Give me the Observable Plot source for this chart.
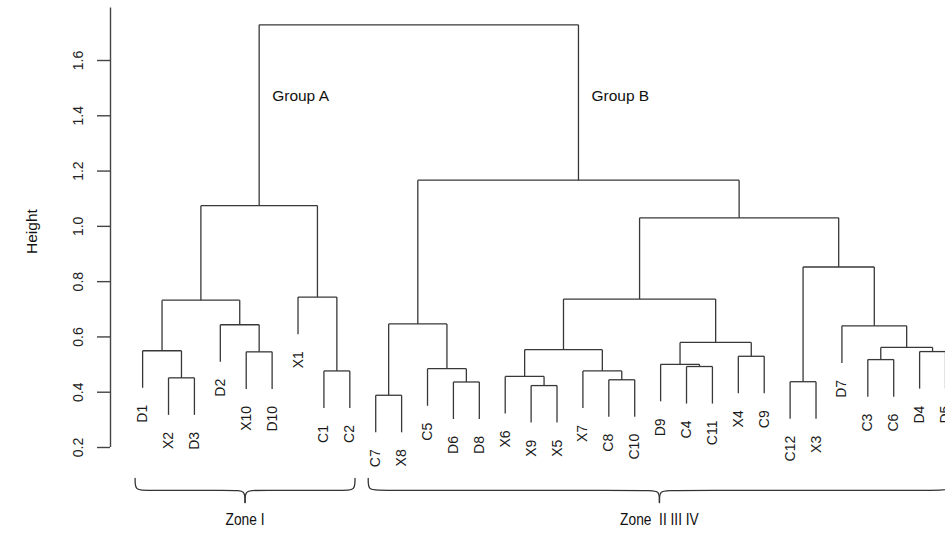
<!DOCTYPE html>
<html><head><meta charset="utf-8">
<script src="https://cdn.jsdelivr.net/npm/d3@7"></script>
<script src="https://cdn.jsdelivr.net/npm/@observablehq/plot@0.6"></script>
<style>
html,body{margin:0;padding:0;background:#fff;overflow:hidden;}
#chart svg{overflow:hidden;}
</style>
</head><body><div id="chart"></div>
<script>
// Leaf order (left to right)
const leaves = ["D1","X2","D3","D2","X10","D10","X1","C1","C2","C7","X8","C5","D6","D8","X6","X9","X5","X7","C8","C10","D9","C4","C11","X4","C9","C12","X3","D7","C3","C6","D4","D5"];
// Merges m1..m31: left child, right child, height
const mergeLeft  = ["X2","D1","X10","D2","m2","C1","X1","m5","C7","D6","C5","m9","X9","X6","C8","X7","m14","C4","D9","X4","m19","m17","C12","C3","D4","m24","D7","m23","m22","m12","m8"];
const mergeRight = ["D3","m1","D10","m3","m4","C2","m6","m7","X8","D8","m10","m11","X5","m13","C10","m15","m16","C11","m18","C9","m20","m21","X3","C6","D5","m25","m26","m27","m28","m29","m30"];
const mergeHeight = [0.452,0.550,0.546,0.644,0.733,0.477,0.744,1.075,0.389,0.437,0.485,0.647,0.424,0.457,0.445,0.477,0.554,0.493,0.501,0.530,0.580,0.737,0.438,0.518,0.547,0.562,0.640,0.853,1.031,1.167,1.729];
// Axis ticks
const yTicks = [0.2,0.4,0.6,0.8,1.0,1.2,1.4,1.6];
// Group annotations
const groupNames = ["Group A","Group B"];
const groupNodes = ["m8","m30"];
// Zone annotations
const zoneNames = ["Zone I","Zone  II III IV"];
const zoneFirst = ["D1","C7"];
const zoneLast  = ["C2","D5"];

const hang = 0.134;
const pos = new Map(), topY = new Map(), leafBottom = new Map();
leaves.forEach((l,i) => pos.set(l, i + 1));
const segs = [];
mergeLeft.forEach((l, i) => {
  const id = "m" + (i + 1), r = mergeRight[i], h = mergeHeight[i];
  for (const c of [l, r]) if (!topY.has(c)) { topY.set(c, h - hang); leafBottom.set(c, h - hang); }
  const xl = pos.get(l), xr = pos.get(r);
  segs.push({x1: xl, y1: topY.get(l), x2: xl, y2: h});
  segs.push({x1: xr, y1: topY.get(r), x2: xr, y2: h});
  segs.push({x1: xl, y1: h, x2: xr, y2: h});
  pos.set(id, (xl + xr) / 2); topY.set(id, h);
});

const n = leaves.length;
const pad = 0.04 * (n - 1);
const xDomain = [1 - pad, n + pad];
const step = 25.9;

// braces
const braceTop = 0.088, braceMid = 0.045, braceTip = 0.001, zoneLabelY = -0.082;
const bracePts = [];
const zoneCenters = [];
zoneNames.forEach((z, i) => {
  const a = pos.get(zoneFirst[i]) - 0.29, b = pos.get(zoneLast[i]) + 0.2, c = (a + b) / 2, r = 0.4;
  zoneCenters.push(c);
  [[a, braceTop],[a, braceMid],[a + r, braceMid],[c - r, braceMid],[c, braceMid],[c, braceTip]]
    .forEach(([x, y]) => bracePts.push({key: z + "L", x, y}));
  [[b, braceTop],[b, braceMid],[b - r, braceMid],[c + r, braceMid],[c, braceMid],[c, braceTip]]
    .forEach(([x, y]) => bracePts.push({key: z + "R", x, y}));
});

const lineColor = "#383838";
const chart = Plot.plot({
  width: 945,
  height: 536,
  marginLeft: 110,
  marginTop: 6,
  marginBottom: 89,
  marginRight: 0,
  style: {fontFamily: "'Liberation Sans', Arial, sans-serif", fontSize: "14px", background: "#fff", color: "#1a1a1a"},
  x: {domain: xDomain, range: [110, 110 + (xDomain[1] - xDomain[0]) * step], axis: null},
  y: {domain: [0.2, 1.6], range: [447, 60], axis: null},
  marks: [
    Plot.ruleX([xDomain[0]], {y1: 0.2, y2: 1.79, stroke: "#444", strokeWidth: 1.4}),
    Plot.axisY({ticks: yTicks, tickSize: 13, tickPadding: 15, tickRotate: -90, tickFormat: d => d.toFixed(1), label: null, fontSize: 14, stroke: "#444", strokeWidth: 1.4, fill: "#222"}),
    Plot.text(["Height"], {frameAnchor: "left", y: () => d3.mean(yTicks), dx: -78, rotate: -90, fontSize: 15.5, fill: "#111"}),
    Plot.link(segs, {x1: "x1", y1: "y1", x2: "x2", y2: "y2", stroke: lineColor, strokeWidth: 1.3}),
    Plot.text(leaves, {x: d => pos.get(d), y: d => leafBottom.get(d), text: d => d, rotate: -90, textAnchor: "end", dy: 17, fontSize: 14, fill: "#1a1a1a"}),
    Plot.text(groupNames, {x: (d, i) => pos.get(groupNodes[i]), y: () => 1.47, text: d => d, dx: 13, textAnchor: "start", fontSize: 15.5, fill: "#111"}),
    Plot.line(bracePts, {x: "x", y: "y", z: "key", curve: "basis", stroke: "#333", strokeWidth: 1.3}),
    Plot.text(zoneNames, {className: "zone-label", x: (d, i) => zoneCenters[i], y: () => zoneLabelY, text: d => d, fontSize: 16, fontFamily: "'Liberation Sans Narrow', 'Arial Narrow', 'Liberation Sans', sans-serif", fill: "#111"})
  ]
});
// condensed look for zone labels
d3.select(chart).selectAll(".zone-label text").each(function () {
  const t = this.getAttribute("transform") || "";
  const x = +this.getAttribute("x") || 0, y = +this.getAttribute("y") || 0;
  this.removeAttribute("x"); this.removeAttribute("y");
  this.setAttribute("transform", `${t} translate(${x},${y}) scale(0.86,1)`);
});
document.getElementById("chart").append(chart);
</script>
</body></html>
